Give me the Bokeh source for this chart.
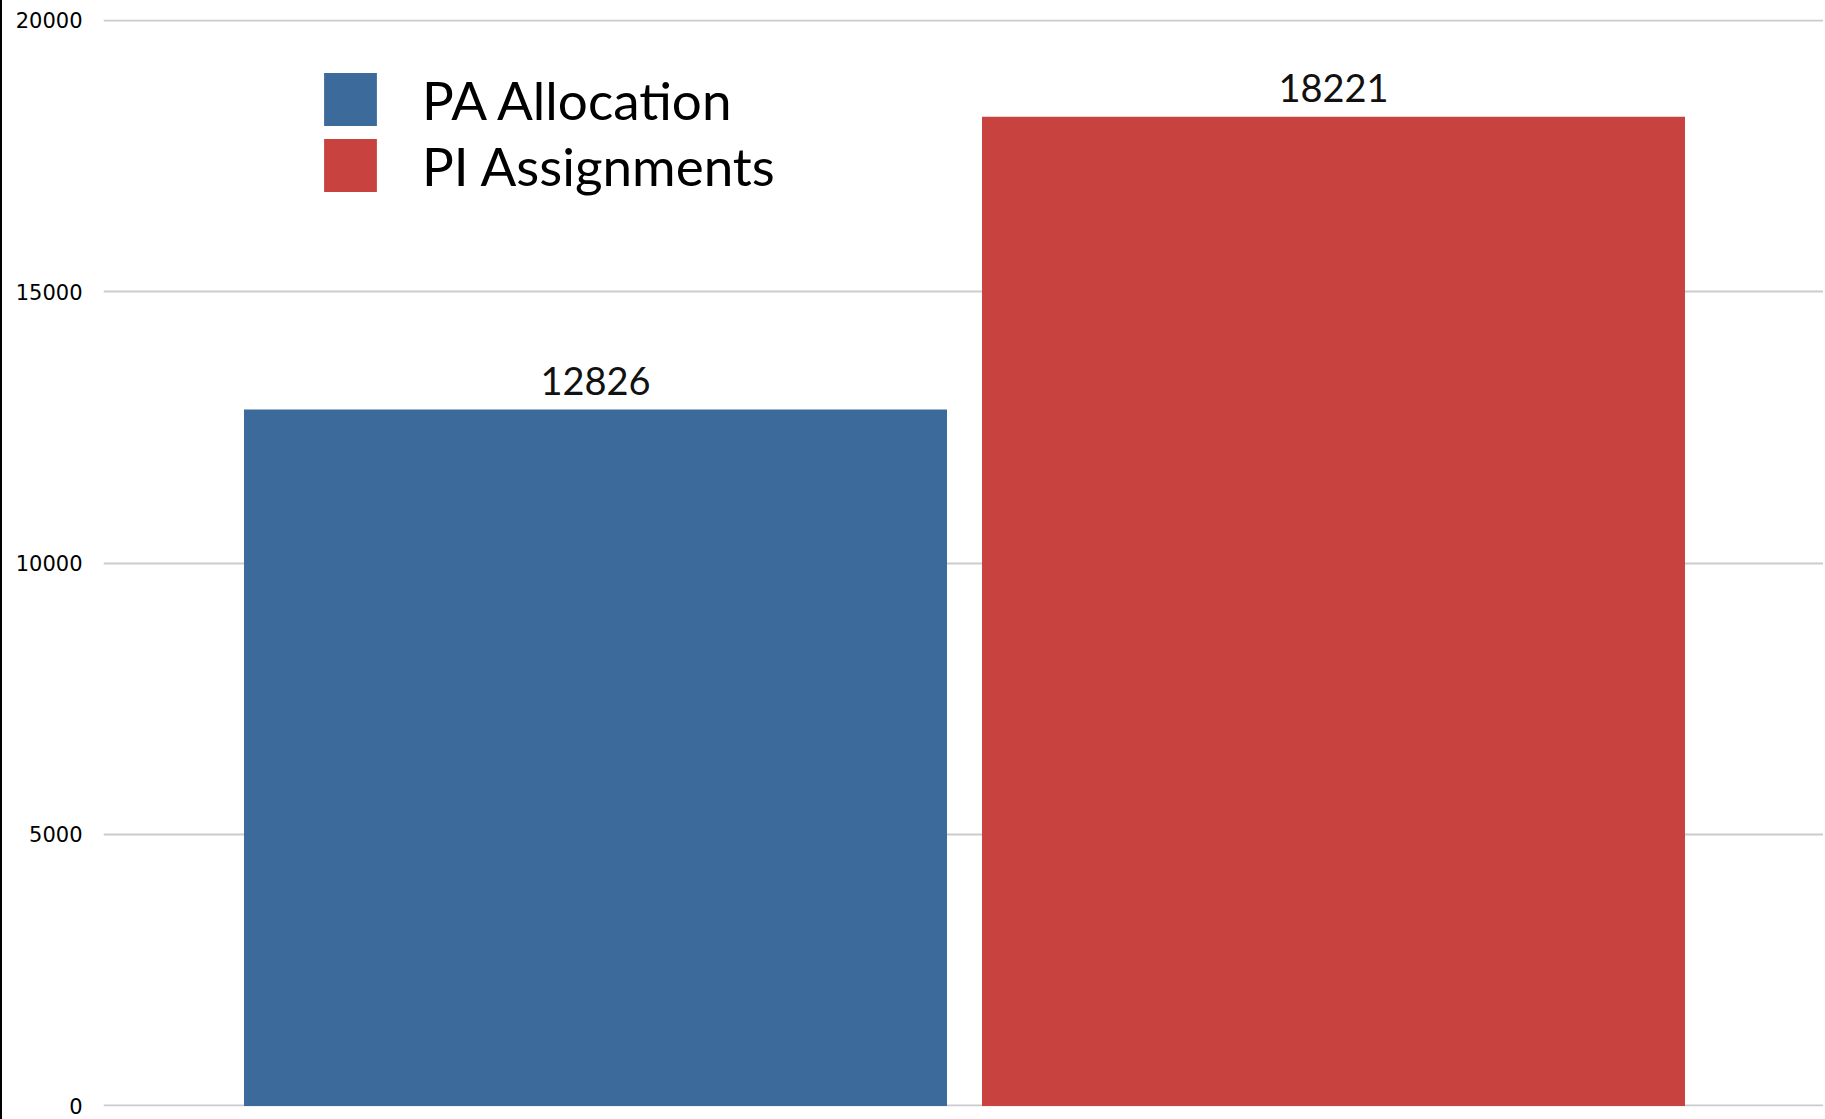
from bokeh.plotting import figure
from bokeh.models import FactorRange, Range1d, FixedTicker, Legend, LegendItem, ColumnDataSource
from bokeh.core.properties import value
from bokeh.embed import file_html
from bokeh.resources import INLINE

categories = ["PA Allocation", "PI Assignments"]
values = [12826, 18221]
colors = ["#3C6A9A", "#C84240"]
y_ticks = [0, 5000, 10000, 15000, 20000]

source = ColumnDataSource(data=dict(
    cat=categories,
    val=values,
    color=colors,
    label=[str(v) for v in values],
))

p = figure(
    width=1823, height=1119,
    x_range=FactorRange(factors=categories, range_padding=0.1667, range_padding_units="absolute"),
    y_range=Range1d(-10, 20010),
    output_backend="svg", toolbar_location=None,
    min_border_left=101, min_border_right=0, min_border_top=19, min_border_bottom=13,
)
p.styles = {"border-left": "2px solid black"}
p.outline_line_color = None
p.background_fill_color = "white"
p.border_fill_color = "white"

bars = p.vbar(x="cat", top="val", bottom=0, width=0.9526, color="color", line_color=None, source=source)

p.text(x="cat", y="val", text="label", source=source, y_offset=-15,
       text_align="center", text_baseline="bottom",
       text_font=value("Lato"), text_font_size="38px", text_color="#111111")

p.xaxis.visible = False
p.xgrid.grid_line_color = None
p.ygrid.grid_line_color = "#cccccc"
p.ygrid.grid_line_width = 2

yax = p.yaxis[0]
yax.ticker = FixedTicker(ticks=y_ticks)
yax.axis_line_color = None
yax.major_tick_line_color = None
yax.minor_tick_line_color = None
yax.major_tick_out = 0
yax.major_tick_in = 0
yax.major_label_standoff = 21
yax.major_label_text_font = "DejaVu Sans"
yax.major_label_text_font_size = "21px"
yax.major_label_text_color = "black"

legend = Legend(
    items=[LegendItem(label=categories[i], renderers=[bars], index=i) for i in range(2)],
    location=(214, 908),
    glyph_width=66, glyph_height=66,
    label_standoff=39, spacing=0, padding=0, margin=0,
    label_text_font="Lato", label_text_font_size="53px", label_text_color="black",
    border_line_color=None, background_fill_alpha=0,
)
p.add_layout(legend, "center")

open("out.html", "w").write(file_html(p, INLINE))
